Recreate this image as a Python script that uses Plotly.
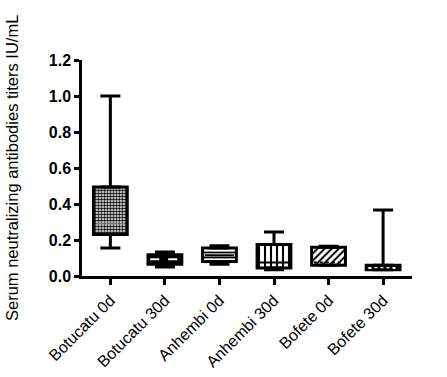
import plotly.graph_objects as go

categories = ["Botucatu 0d", "Botucatu 30d", "Anhembi 0d", "Anhembi 30d", "Bofete 0d", "Bofete 30d"]
upper_whisker = [1.00, 0.133, 0.168, 0.245, 0.165, 0.367]
q3_values = [0.495, 0.118, 0.155, 0.175, 0.160, 0.060]
median_values = [0.29, 0.093, 0.115, 0.075, 0.075, 0.045]
q1_values = [0.230, 0.065, 0.080, 0.045, 0.060, 0.035]
lower_whisker = [0.155, 0.050, 0.065, 0.035, 0.060, 0.035]
y_tick_vals = [0.0, 0.2, 0.4, 0.6, 0.8, 1.0, 1.2]
y_tick_text = ["0.0", "0.2", "0.4", "0.6", "0.8", "1.0", "1.2"]
y_title = "Serum neutralizing antibodies titers IU/mL"

# styles
pattern_shapes = [".", "", "-", "|", "/", ""]
fill_colors = ["white", "black", "white", "white", "white", "black"]
pattern_size = [3, 8, 5, 6, 5, 8]
pattern_solidity = [0.55, 0.3, 0.35, 0.35, 0.4, 0.3]
median_color = ["#9a9a9a", "white", "black", "black", "black", "white"]
median_dash = ["solid", "dash", "solid", "solid", "dot", "dot"]
median_width = [1, 2, 2, 2, 2, 2]
box_width = 0.62
FONT = "Liberation Sans, Arial, sans-serif"

xs = list(range(len(categories)))

fig = go.Figure()

for i in xs:
    pat = dict(shape=pattern_shapes[i], fgcolor="black", bgcolor=fill_colors[i],
               size=pattern_size[i], solidity=pattern_solidity[i], fillmode="replace")
    fig.add_trace(go.Bar(
        x=[xs[i]],
        y=[q3_values[i] - q1_values[i]],
        base=[q1_values[i]],
        width=box_width,
        marker=dict(color=fill_colors[i], line=dict(color="black", width=3), pattern=pat),
        showlegend=False,
        hoverinfo="skip",
    ))

for i, m in enumerate(median_values):
    fig.add_trace(go.Scatter(
        x=[xs[i] - box_width / 2 + 0.04, xs[i] + box_width / 2 - 0.04],
        y=[m, m],
        mode="lines",
        line=dict(color=median_color[i], width=median_width[i], dash=median_dash[i]),
        showlegend=False,
        hoverinfo="skip",
    ))

fig.add_trace(go.Scatter(
    x=xs, y=q3_values, mode="markers",
    marker=dict(size=1, color="rgba(0,0,0,0)"),
    error_y=dict(type="data", symmetric=False,
                 array=[u - q for u, q in zip(upper_whisker, q3_values)],
                 arrayminus=[0] * len(xs), width=10, thickness=3, color="black"),
    showlegend=False, hoverinfo="skip",
))
fig.add_trace(go.Scatter(
    x=xs, y=q1_values, mode="markers",
    marker=dict(size=1, color="rgba(0,0,0,0)"),
    error_y=dict(type="data", symmetric=False,
                 array=[0] * len(xs),
                 arrayminus=[q - l for q, l in zip(q1_values, lower_whisker)],
                 width=10, thickness=3, color="black"),
    showlegend=False, hoverinfo="skip",
))

fig.update_layout(
    width=447, height=377,
    margin=dict(l=82, r=35, t=60, b=101),
    plot_bgcolor="white", paper_bgcolor="white",
    font=dict(family=FONT, color="black"),
    barmode="overlay",
    annotations=[dict(
        text=y_title, textangle=-90, showarrow=False,
        xref="paper", yref="paper", x=0, y=0.5, xanchor="center", yanchor="middle",
        xshift=-70, font=dict(size=16.5, family=FONT, color="black"),
    )],
)
fig.update_xaxes(
    range=[-0.52, 5.53], automargin=False,
    tickvals=xs, ticktext=categories, tickangle=-45,
    tickfont=dict(size=16, family=FONT, color="black"),
    showline=True, linecolor="black", linewidth=2.5,
    ticks="outside", ticklen=6, tickwidth=2.5, tickcolor="black",
    showgrid=False, zeroline=False,
)
fig.update_yaxes(
    range=[0, 1.2], automargin=False,
    tickvals=y_tick_vals, ticktext=y_tick_text,
    tickfont=dict(size=16, family=FONT, color="black", weight="bold"),
    showline=True, linecolor="black", linewidth=2.5,
    ticks="outside", ticklen=5, tickwidth=2.5, tickcolor="black",
    showgrid=False, zeroline=False,
)

fig.write_html("out.html", config={"displayModeBar": False},
               post_script="document.body.style.margin='0';document.body.style.overflow='hidden';")
